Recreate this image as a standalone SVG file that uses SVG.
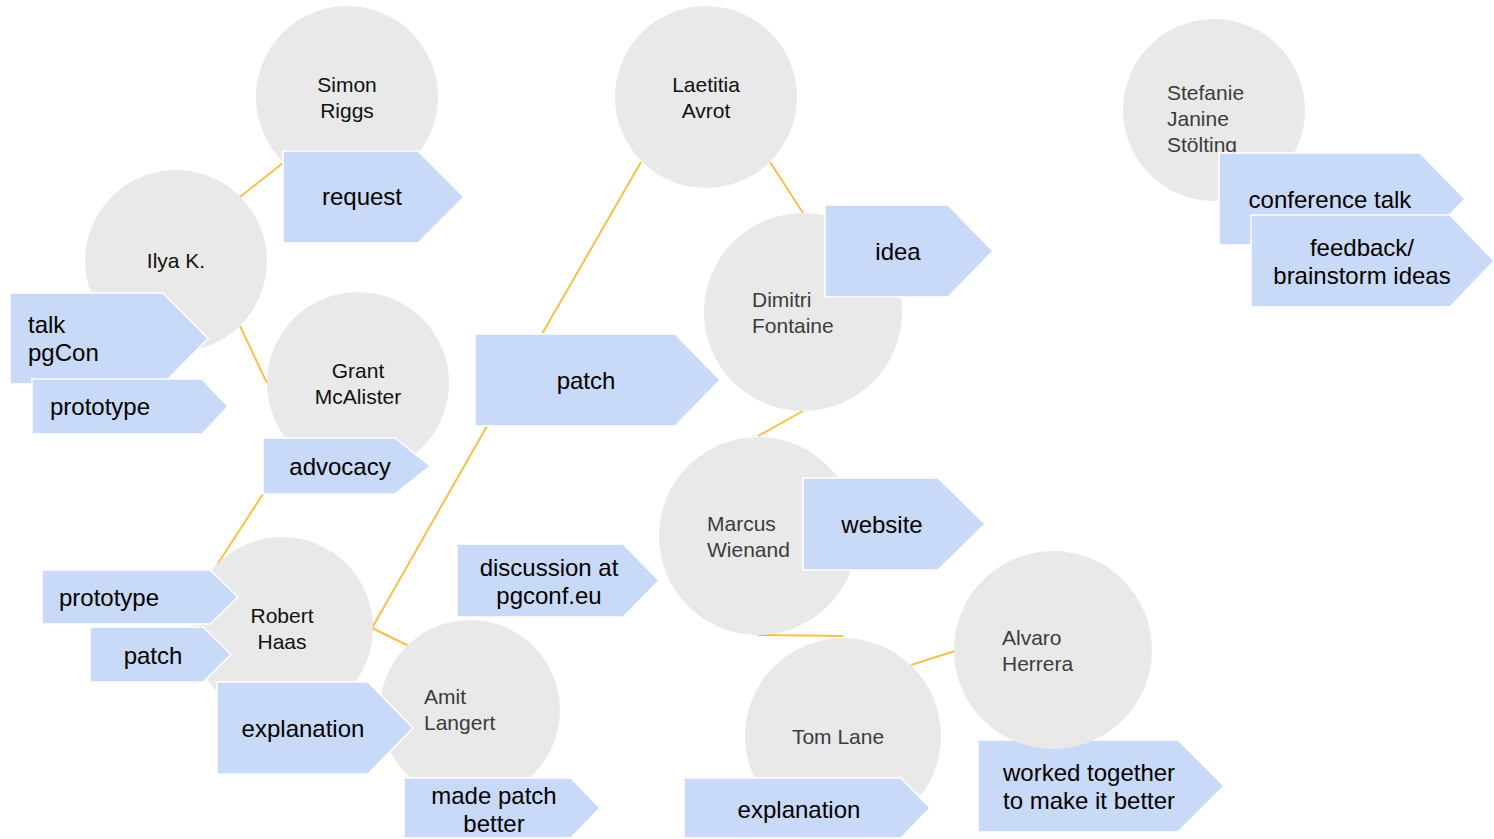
<svg xmlns="http://www.w3.org/2000/svg" width="1494" height="839" viewBox="0 0 1494 839">
<style>
.p{fill:#E8E9E8}
.a{fill:#C9DAF8;stroke:#FFFFFF;stroke-width:1.5}
.n{font-family:"Liberation Sans",Arial,sans-serif;font-size:21px;fill:#111}
.g{font-family:"Liberation Sans",Arial,sans-serif;font-size:21px;fill:#3C3C3C}
.l{font-family:"Liberation Sans",Arial,sans-serif;font-size:24px;fill:#000}
.m{text-anchor:middle}
.c line{stroke:#F6C04C;stroke-width:2}
</style>
<rect width="1494" height="839" fill="#FFFFFF"/>
<g id="connectors" class="c">
<line x1="240" y1="197" x2="283" y2="163"/>
<line x1="240" y1="326" x2="267" y2="383"/>
<line x1="263" y1="494" x2="217" y2="565"/>
<line x1="641" y1="162" x2="542" y2="334"/>
<line x1="770" y1="162" x2="803" y2="213"/>
<line x1="803" y1="411" x2="758" y2="436"/>
<line x1="487" y1="426" x2="372" y2="628"/>
<line x1="372" y1="628" x2="413" y2="648"/>
<line x1="758" y1="635" x2="843" y2="636"/>
<line x1="911" y1="665" x2="955" y2="651"/>
</g>
<g id="simon"><circle class="p" cx="347" cy="97" r="91"/><text class="n m" x="347" y="92">Simon</text><text class="n m" x="347" y="118">Riggs</text></g>
<g id="request"><polygon class="a" points="283,151 418,151 464,197 418,243 283,243"/><text class="l m" x="362" y="205">request</text></g>
<g id="ilya"><circle class="p" cx="176" cy="261" r="91"/><text class="n m" x="176" y="268">Ilya K.</text></g>
<g id="talk"><polygon class="a" points="10,293 163,293 208,338.5 163,384 10,384"/><text class="l" x="28" y="333">talk</text><text class="l" x="28" y="361">pgCon</text></g>
<g id="prototype1"><polygon class="a" points="32,379 202,379 228,406.5 202,434 32,434"/><text class="l" x="50" y="415">prototype</text></g>
<g id="grant"><circle class="p" cx="358" cy="383" r="91"/><text class="n m" x="358" y="378">Grant</text><text class="n m" x="358" y="404">McAlister</text></g>
<g id="advocacy"><polygon class="a" points="263,438 395,438 430,466 395,494 263,494"/><text class="l m" x="340" y="475">advocacy</text></g>
<g id="laetitia"><circle class="p" cx="706" cy="97" r="91"/><text class="n m" x="706" y="92">Laetitia</text><text class="n m" x="706" y="118">Avrot</text></g>
<g id="dimitri"><circle class="p" cx="803" cy="312" r="99"/><text class="g" x="752" y="307">Dimitri</text><text class="g" x="752" y="333">Fontaine</text></g>
<g id="idea"><polygon class="a" points="825,205 948,205 993,251 948,297 825,297"/><text class="l m" x="898" y="260">idea</text></g>
<g id="patch1"><polygon class="a" points="475,334 675,334 720,380 675,426 475,426"/><text class="l m" x="586" y="389">patch</text></g>
<g id="marcus"><circle class="p" cx="758" cy="536" r="99"/><text class="g" x="707" y="531">Marcus</text><text class="g" x="707" y="557">Wienand</text></g>
<g id="website"><polygon class="a" points="803,478 938,478 985,524 938,570 803,570"/><text class="l m" x="882" y="533">website</text></g>
<g id="discussion"><polygon class="a" points="457,544 623,544 659,580.5 623,617 457,617"/><text class="l m" x="549" y="576">discussion at</text><text class="l m" x="549" y="604">pgconf.eu</text></g>
<g id="robert"><circle class="p" cx="282" cy="628" r="91"/><text class="n m" x="282" y="623">Robert</text><text class="n m" x="282" y="649">Haas</text></g>
<g id="prototype2"><polygon class="a" points="42,570 210,570 238,597 210,624 42,624"/><text class="l" x="59" y="606">prototype</text></g>
<g id="patch2"><polygon class="a" points="90,627 203,627 231,654.5 203,682 90,682"/><text class="l m" x="153" y="664">patch</text></g>
<g id="amit"><circle class="p" cx="470" cy="710" r="90"/><text class="g" x="424" y="704">Amit</text><text class="g" x="424" y="730">Langert</text></g>
<g id="explanation1"><polygon class="a" points="217,682 368,682 413,728 368,774 217,774"/><text class="l m" x="303" y="737">explanation</text></g>
<g id="madepatch"><polygon class="a" points="404,778 571,778 600,808 571,838 404,838"/><text class="l m" x="494" y="804">made patch</text><text class="l m" x="494" y="832">better</text></g>
<g id="tom"><circle class="p" cx="843" cy="736" r="98"/><text class="g m" x="838" y="744">Tom Lane</text></g>
<g id="explanation2"><polygon class="a" points="684,778 901,778 930,808 901,838 684,838"/><text class="l m" x="799" y="818">explanation</text></g>
<g id="worked"><polygon class="a" points="978,740 1178,740 1224,786 1178,832 978,832"/><text class="l" x="1003" y="781">worked together</text><text class="l" x="1003" y="809">to make it better</text></g>
<g id="alvaro"><circle class="p" cx="1053" cy="650" r="99"/><text class="g" x="1002" y="645">Alvaro</text><text class="g" x="1002" y="671">Herrera</text></g>
<g id="stefanie"><circle class="p" cx="1214" cy="110" r="91"/><text class="g" x="1167" y="100">Stefanie</text><text class="g" x="1167" y="126">Janine</text><text class="g" x="1167" y="152">Stölting</text></g>
<g id="conference"><polygon class="a" points="1219,153 1420,153 1465,199 1420,245 1219,245"/><text class="l m" x="1330" y="208">conference talk</text></g>
<g id="feedback"><polygon class="a" points="1251,215 1450,215 1494,261 1450,307 1251,307"/><text class="l m" x="1362" y="256">feedback/</text><text class="l m" x="1362" y="284">brainstorm ideas</text></g>
</svg>
